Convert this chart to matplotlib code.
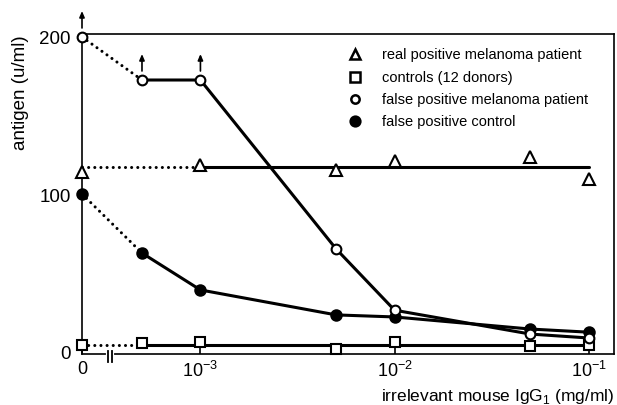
import matplotlib.pyplot as plt
from matplotlib.transforms import offset_copy, blended_transform_factory
from matplotlib.ticker import NullLocator
import numpy as np

plt.rcParams['font.family'] = ['Liberation Sans', 'DejaVu Sans']

# concentration of irrelevant mouse IgG1 (mg/ml); 0 is drawn at a fake log position
conc = [0, 5e-4, 1e-3, 5e-3, 1e-2, 5e-2, 1e-1]
conc_real = [0, 1e-3, 5e-3, 1e-2, 5e-2, 1e-1]

real_positive = [114, 118.5, 115, 121, 123.5, 109.5]
controls = [3.8, 5, 5.7, 1.3, 5.7, 3.2, 3.8]
false_pos_patient = [200, 172.6, 172.6, 65, 26, 10.8, 8.3]
false_pos_control = [100, 62.4, 38.9, 23, 21.7, 14, 12]
# points that were off scale (drawn with an up arrow)
off_scale = [0, 5e-4, 1e-3]

legend_labels = ['real positive melanoma patient', 'controls (12 donors)',
                 'false positive melanoma patient', 'false positive control']

X0 = 10 ** -3.61
BRK = 10 ** -3.465
LW = 2.2
DOTS = (0, (0.01, 2.0))


def xpos(vals):
    return [X0 if v == 0 else v for v in vals]


fig = plt.figure(figsize=(6.17, 4.06), dpi=100)
ax = fig.add_axes([0.1329, 0.1256, 0.8622, 0.7882])
ax.set_xscale('log')
ax.set_xlim(X0, 10 ** -0.87)
ax.set_ylim(-1.9, 201.9)


def dotted(x, y):
    ax.plot(x, y, color='k', lw=LW, ls=DOTS, dash_capstyle='round', clip_on=False)


def solid(x, y):
    ax.plot(x, y, color='k', lw=LW, solid_capstyle='round', clip_on=False)


def markers(x, y, marker, fill, ms):
    ax.plot(x, y, ls='none', marker=marker, mfc=fill, mec='k', mew=1.5, ms=ms,
            clip_on=False, zorder=4)


# real positive: flat level line
xr = xpos(conc_real)
lev = np.mean(real_positive)
dotted([xr[0], xr[1]], [lev, lev])
solid([xr[1], xr[-1]], [lev, lev])
markers(xr, real_positive, '^', 'white', 8.5)

# controls: flat level line
xc = xpos(conc)
lev = np.mean(controls)
dotted([xc[0], xc[1]], [lev, lev])
solid([xc[1], xc[-1]], [lev, lev])
markers(xc, controls, 's', 'white', 7)

# false positives
dotted(xc[:2], false_pos_control[:2])
solid(xc[1:], false_pos_control[1:])
markers(xc, false_pos_control, 'o', 'black', 7.5)

dotted(xc[:2], false_pos_patient[:2])
solid(xc[1:], false_pos_patient[1:])
markers(xc, false_pos_patient, 'o', 'white', 7)

lo = offset_copy(ax.transData, fig=fig, x=0, y=9, units='dots')
hi = offset_copy(ax.transData, fig=fig, x=0, y=26, units='dots')
for c in off_scale:
    xv = xpos([c])[0]
    yv = false_pos_patient[conc.index(c)]
    ax.annotate('', xy=(xv, yv), xycoords=hi, xytext=(xv, yv), textcoords=lo,
                arrowprops=dict(arrowstyle='-|>,head_length=0.35,head_width=0.15',
                                color='k', lw=1.2, shrinkA=0, shrinkB=0),
                annotation_clip=False)

# axis break on the x axis
bt = blended_transform_factory(ax.transData, ax.transAxes)
ax.plot([BRK / 1.022, BRK * 1.022], [0, 0], color='white', lw=3, transform=bt,
        clip_on=False, zorder=5)
for xb in [BRK / 1.022, BRK * 1.022]:
    ax.plot([xb, xb], [0.01, -0.025], color='k', lw=1.3, transform=bt,
            clip_on=False, zorder=6)

for s in ax.spines.values():
    s.set_linewidth(1.2)

ax.set_xticks(xpos([0, 1e-3, 1e-2, 1e-1]))
ax.set_xticklabels(['0', r'$\mathregular{10^{-3}}$', r'$\mathregular{10^{-2}}$',
                    r'$\mathregular{10^{-1}}$'])
ax.xaxis.set_minor_locator(NullLocator())
ax.tick_params(axis='x', direction='in', length=6, width=1.2, pad=4, labelsize=13)
ax.set_yticks([0, 100, 200])
ax.tick_params(axis='y', length=0, pad=8, labelsize=13.5)

ax.set_xlabel(r'irrelevant mouse IgG$_\mathregular{1}$ (mg/ml)', fontsize=12.5,
              loc='right')
ax.xaxis.set_label_coords(1.0, -0.1)
ax.set_ylabel('antigen (u/ml)', fontsize=13.5)
ax.yaxis.set_label_coords(-0.10, 0.82)

# legend drawn by hand
leg_marks = [('^', 'white', 7.5), ('s', 'white', 6.5), ('o', 'white', 6), ('o', 'black', 7)]
leg_y = [0.9375, 0.866, 0.797, 0.728]
for (m, f, ms), yy, lab in zip(leg_marks, leg_y, legend_labels):
    ax.plot([0.513], [yy], ls='none', marker=m, mfc=f, mec='k', mew=1.8, ms=ms,
            transform=ax.transAxes)
    ax.text(0.564, yy, lab, fontsize=10.5, va='center', ha='left',
            transform=ax.transAxes)

fig.savefig('out.png', dpi=100)
